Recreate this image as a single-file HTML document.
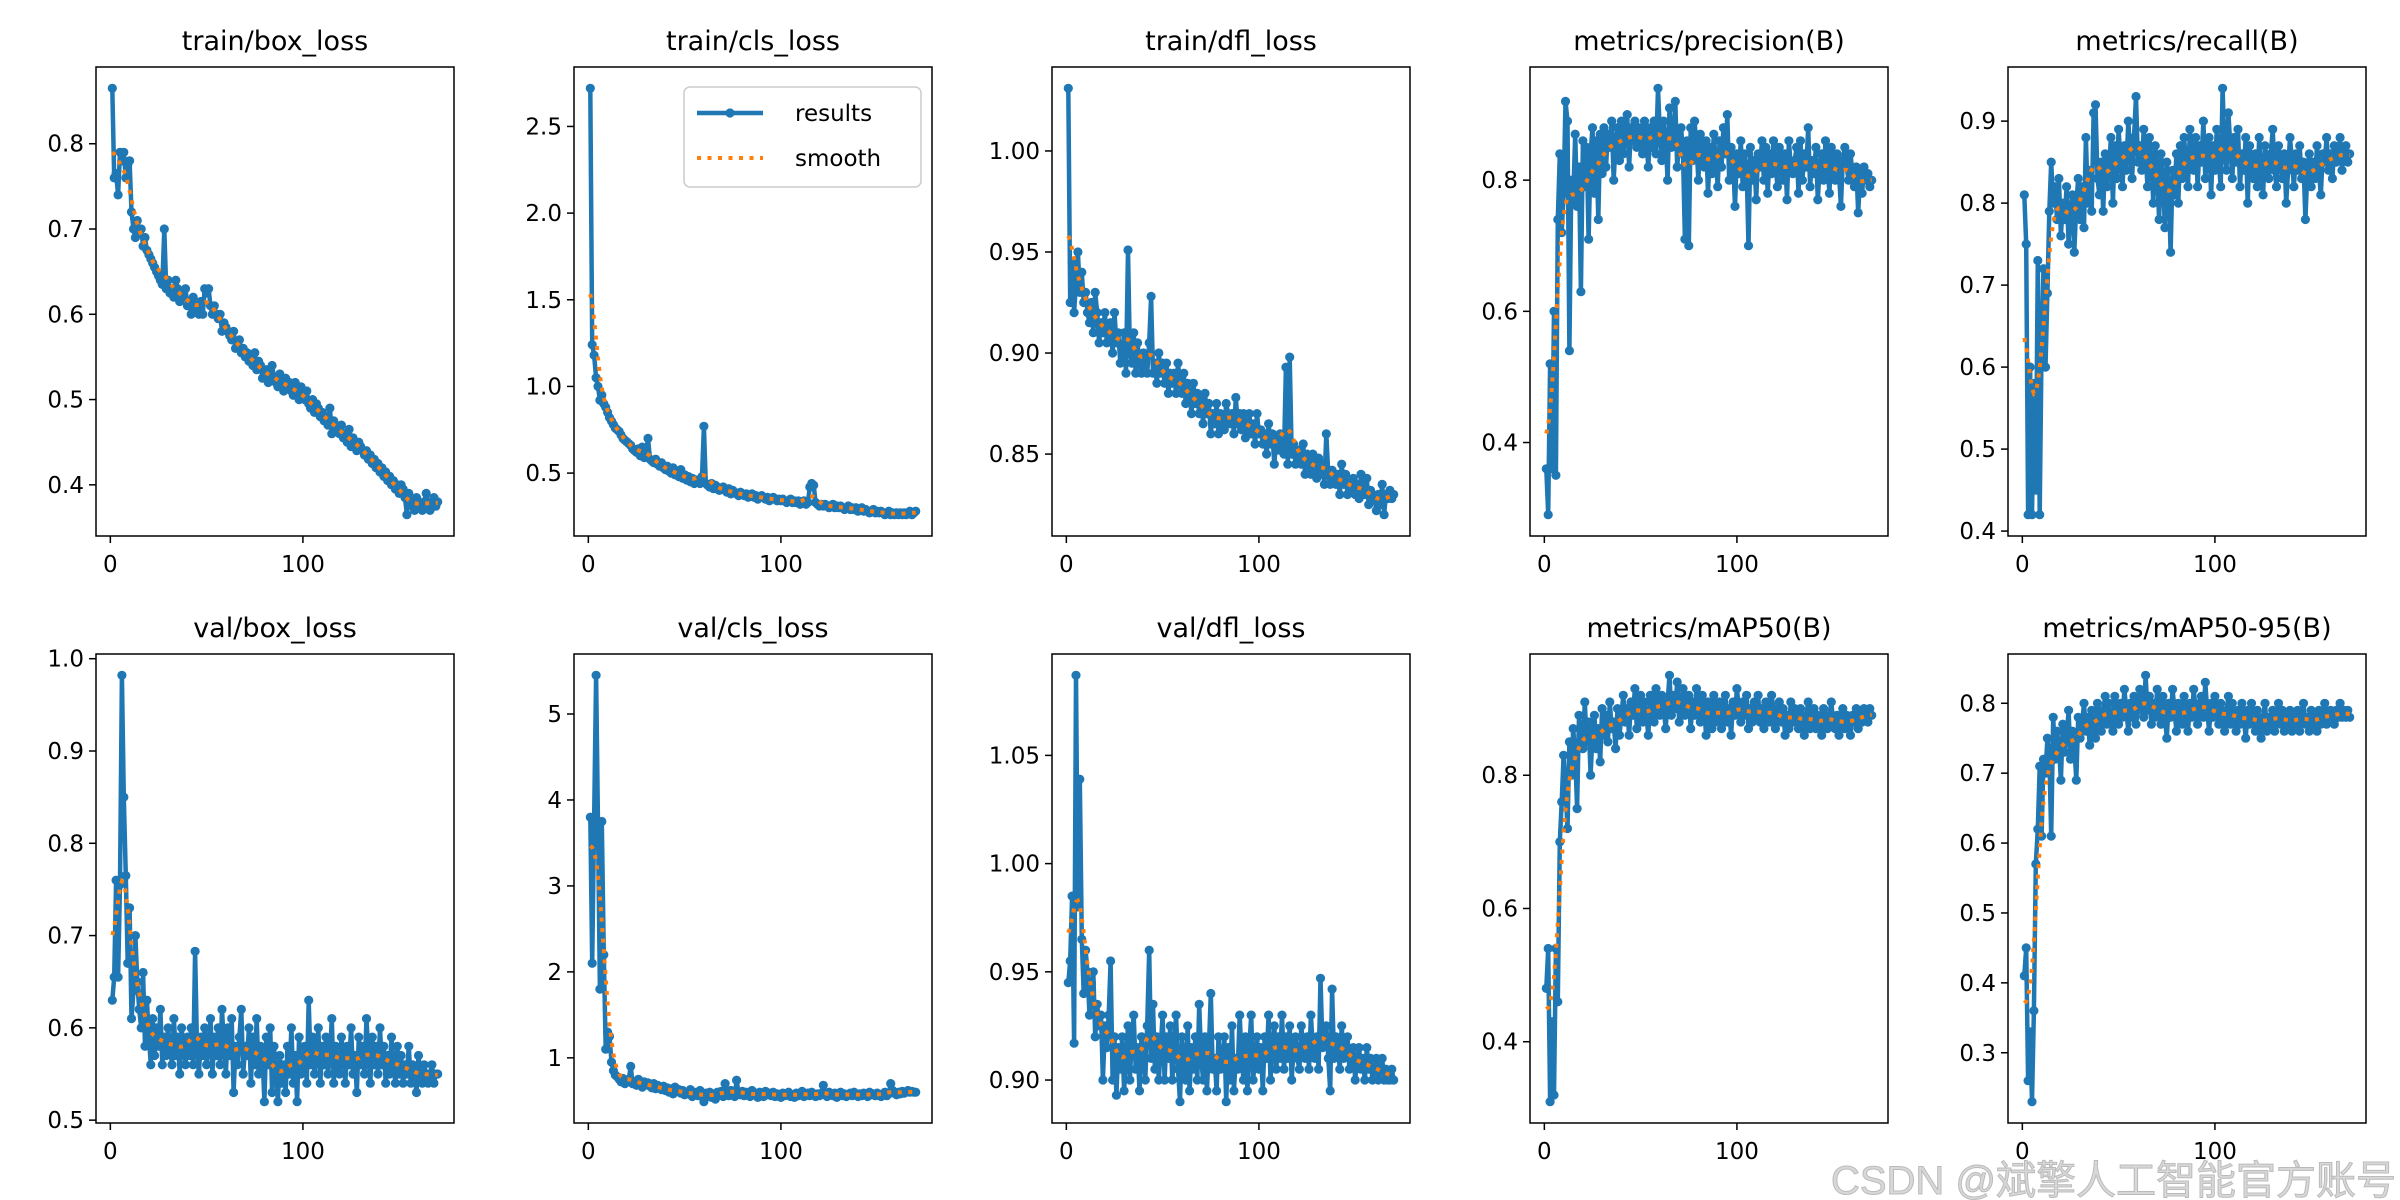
<!DOCTYPE html>
<html><head><meta charset="utf-8">
<style>
html,body{margin:0;padding:0;background:#fff;}
svg{display:block;}
text{font-family:"DejaVu Sans","Liberation Sans",sans-serif;fill:#000;}
</style></head>
<body>
<svg id="fig" xmlns="http://www.w3.org/2000/svg" width="2400" height="1200" viewBox="0 0 2400 1200">
<rect x="0" y="0" width="2400" height="1200" fill="#fff"/>
<text x="2396" y="1194" text-anchor="end" font-size="40" style="font-family:'Liberation Sans','Noto Sans CJK SC',sans-serif;fill:#d8d8d8;stroke:#bbb;stroke-width:1">CSDN @斌擎人工智能官方账号</text>
</svg>
<script>
const titles = ["train/box_loss","train/cls_loss","train/dfl_loss","metrics/precision(B)","metrics/recall(B)","val/box_loss","val/cls_loss","val/dfl_loss","metrics/mAP50(B)","metrics/mAP50-95(B)"];
const trainBox = [.865,.76,.765,.74,.79,.78,.79,.76,.775,.78,.72,.70,.69,.71,.695,.70,.68,.69,.675,.67,.665,.66,.655,.65,.645,.64,.635,.70,.63,.64,.625,.63,.62,.64,.63,.615,.625,.62,.63,.61,.615,.60,.62,.61,.605,.60,.615,.60,.63,.625,.63,.61,.60,.61,.60,.595,.60,.58,.59,.585,.58,.575,.57,.58,.56,.565,.57,.555,.56,.55,.555,.545,.55,.54,.555,.535,.545,.54,.525,.53,.535,.52,.53,.54,.525,.52,.515,.53,.52,.51,.525,.515,.52,.51,.505,.52,.51,.50,.515,.505,.50,.51,.495,.49,.50,.485,.495,.49,.48,.485,.475,.48,.47,.49,.46,.475,.47,.465,.46,.47,.455,.46,.45,.465,.445,.455,.45,.44,.45,.445,.44,.435,.44,.43,.435,.425,.43,.42,.425,.415,.42,.41,.415,.405,.41,.40,.405,.395,.40,.39,.40,.395,.385,.365,.39,.38,.375,.37,.385,.38,.375,.37,.38,.39,.375,.37,.38,.385,.375,.38];
const trainCls = [2.72,1.24,1.18,1.05,1.0,.92,.95,.90,.88,.85,.82,.80,.78,.76,.75,.74,.72,.70,.69,.68,.67,.66,.64,.63,.62,.64,.60,.65,.59,.62,.70,.58,.57,.56,.58,.55,.54,.56,.53,.52,.54,.51,.50,.53,.49,.50,.48,.52,.47,.49,.46,.48,.45,.47,.44,.46,.45,.44,.48,.77,.44,.43,.42,.44,.41,.43,.42,.40,.41,.42,.40,.39,.41,.38,.40,.39,.38,.37,.39,.38,.37,.38,.36,.37,.38,.36,.37,.35,.36,.37,.36,.35,.36,.34,.35,.36,.35,.34,.35,.34,.35,.34,.33,.34,.35,.33,.34,.33,.34,.32,.33,.34,.32,.33,.42,.44,.43,.33,.32,.31,.32,.31,.32,.31,.30,.31,.32,.30,.31,.30,.31,.30,.29,.30,.31,.29,.30,.29,.30,.28,.29,.30,.28,.29,.28,.27,.28,.29,.27,.28,.27,.28,.27,.26,.27,.28,.26,.27,.26,.27,.26,.27,.26,.27,.26,.27,.28,.26,.27,.28];
const trainDfl = [1.031,.925,.945,.92,.935,.95,.93,.94,.925,.93,.92,.915,.925,.91,.93,.92,.905,.915,.91,.92,.905,.91,.915,.90,.92,.905,.91,.895,.90,.91,.89,.951,.90,.895,.91,.89,.905,.895,.89,.90,.895,.89,.905,.928,.89,.895,.885,.90,.89,.895,.885,.895,.88,.89,.885,.89,.88,.895,.885,.88,.89,.875,.885,.88,.87,.885,.875,.88,.87,.878,.865,.88,.87,.875,.86,.87,.865,.875,.86,.87,.868,.862,.875,.87,.865,.87,.86,.878,.865,.87,.862,.87,.858,.865,.87,.86,.865,.855,.87,.86,.862,.855,.86,.85,.865,.855,.86,.845,.858,.852,.86,.855,.85,.893,.845,.898,.85,.855,.845,.85,.852,.845,.855,.84,.85,.845,.84,.85,.845,.838,.848,.84,.845,.835,.86,.84,.835,.842,.838,.835,.84,.83,.845,.835,.84,.83,.836,.832,.838,.83,.835,.828,.84,.832,.83,.838,.825,.832,.83,.828,.822,.83,.825,.835,.82,.83,.828,.832,.828,.83];
const precision = [.36,.29,.52,.36,.60,.35,.74,.84,.72,.78,.92,.89,.54,.80,.77,.87,.76,.82,.63,.86,.79,.85,.71,.84,.88,.78,.86,.74,.87,.81,.88,.82,.87,.85,.89,.80,.86,.88,.83,.89,.84,.87,.90,.82,.88,.86,.89,.85,.88,.87,.84,.89,.86,.82,.88,.85,.89,.84,.94,.87,.83,.89,.86,.80,.91,.85,.87,.92,.82,.86,.88,.84,.71,.86,.70,.88,.83,.89,.85,.80,.87,.84,.82,.86,.78,.85,.81,.87,.83,.79,.86,.82,.88,.84,.90,.80,.85,.83,.76,.84,.81,.86,.79,.84,.82,.70,.85,.80,.83,.77,.84,.82,.86,.80,.85,.78,.84,.81,.86,.83,.79,.85,.82,.80,.84,.77,.86,.82,.81,.83,.85,.78,.86,.80,.84,.82,.88,.79,.83,.81,.85,.77,.82,.84,.80,.86,.83,.78,.85,.82,.80,.84,.81,.76,.83,.85,.82,.80,.84,.81,.79,.82,.75,.81,.78,.82,.80,.81,.79,.80];
const recall = [.81,.75,.42,.60,.42,.58,.45,.73,.42,.63,.72,.60,.69,.79,.85,.80,.82,.78,.83,.76,.80,.78,.82,.75,.79,.81,.74,.80,.83,.78,.82,.77,.88,.80,.84,.79,.91,.92,.83,.81,.85,.79,.86,.82,.84,.88,.80,.87,.83,.89,.85,.82,.87,.84,.90,.86,.83,.88,.93,.85,.87,.84,.89,.86,.82,.88,.85,.80,.87,.84,.78,.86,.83,.77,.85,.82,.74,.84,.81,.86,.80,.87,.83,.88,.85,.82,.89,.86,.84,.88,.82,.87,.85,.90,.83,.86,.88,.81,.87,.84,.89,.85,.82,.94,.86,.84,.91,.87,.83,.88,.85,.89,.82,.86,.84,.88,.80,.87,.85,.83,.86,.82,.88,.84,.81,.87,.85,.83,.86,.89,.84,.82,.87,.85,.83,.86,.80,.84,.88,.85,.82,.86,.84,.87,.83,.85,.78,.84,.86,.82,.85,.83,.87,.84,.81,.86,.85,.88,.84,.86,.83,.87,.85,.86,.88,.84,.86,.87,.85,.86];
const valBox = [.63,.655,.76,.655,.755,.982,.85,.765,.67,.73,.61,.64,.70,.65,.62,.60,.66,.58,.63,.59,.56,.61,.57,.60,.58,.62,.56,.59,.57,.60,.58,.56,.61,.57,.59,.55,.60,.58,.56,.59,.57,.60,.56,.683,.58,.55,.59,.57,.60,.56,.58,.61,.55,.59,.57,.60,.56,.62,.58,.55,.60,.57,.61,.53,.58,.56,.59,.62,.55,.58,.57,.60,.54,.59,.56,.61,.55,.58,.57,.52,.59,.56,.60,.53,.58,.55,.52,.57,.54,.56,.53,.58,.55,.60,.54,.57,.52,.59,.55,.56,.58,.54,.63,.56,.59,.55,.57,.60,.54,.58,.56,.59,.55,.57,.61,.54,.58,.56,.55,.59,.57,.54,.58,.56,.60,.55,.57,.53,.59,.56,.58,.55,.61,.57,.54,.59,.56,.58,.55,.60,.56,.58,.54,.57,.55,.59,.56,.54,.58,.55,.57,.54,.56,.55,.58,.54,.56,.55,.53,.57,.55,.54,.56,.55,.54,.55,.56,.54,.55,.55];
const valCls = [3.8,2.1,3.75,5.45,3.7,1.8,3.75,2.2,1.1,1.3,1.25,.95,.85,.8,.78,.75,.72,.76,.7,.73,.75,.9,.7,.72,.68,.75,.7,.66,.72,.69,.71,.67,.65,.7,.64,.68,.66,.63,.67,.62,.65,.6,.64,.58,.66,.61,.63,.59,.62,.57,.6,.58,.63,.55,.6,.58,.56,.62,.57,.49,.59,.56,.6,.54,.58,.52,.6,.57,.61,.55,.7,.58,.56,.62,.6,.55,.74,.59,.57,.61,.56,.6,.58,.55,.62,.57,.59,.54,.6,.58,.55,.61,.57,.59,.56,.6,.55,.58,.57,.54,.59,.56,.58,.6,.55,.57,.54,.59,.56,.58,.61,.55,.57,.59,.56,.6,.57,.55,.58,.56,.59,.68,.57,.55,.6,.58,.56,.59,.54,.57,.6,.56,.58,.55,.57,.59,.56,.6,.57,.55,.58,.56,.59,.57,.55,.6,.57,.58,.56,.59,.57,.55,.58,.6,.56,.58,.7,.62,.59,.57,.6,.58,.61,.59,.6,.62,.6,.61,.6,.6];
const valDfl = [.945,.955,.985,.917,1.087,.98,1.039,.965,.94,.96,.95,.93,.945,.95,.92,.935,.925,.93,.90,.925,.915,.93,.955,.90,.92,.893,.915,.905,.92,.895,.91,.925,.90,.92,.93,.905,.915,.895,.92,.91,.90,.925,.96,.91,.935,.905,.92,.90,.915,.93,.90,.92,.91,.925,.90,.915,.93,.905,.89,.92,.91,.90,.925,.895,.915,.905,.92,.90,.935,.91,.90,.92,.895,.915,.94,.905,.91,.895,.92,.905,.91,.92,.89,.915,.90,.925,.895,.91,.905,.93,.91,.90,.92,.895,.915,.93,.90,.91,.92,.905,.915,.895,.92,.91,.93,.90,.915,.925,.905,.92,.91,.93,.905,.92,.91,.925,.90,.915,.92,.91,.905,.925,.915,.91,.92,.905,.93,.915,.91,.92,.905,.947,.915,.92,.925,.91,.895,.942,.91,.92,.915,.905,.925,.91,.915,.92,.905,.91,.915,.90,.91,.915,.905,.91,.9,.915,.905,.91,.9,.905,.91,.9,.905,.91,.9,.905,.9,.9,.905,.9];
const map50 = [.48,.54,.31,.43,.32,.54,.46,.70,.76,.83,.78,.72,.85,.80,.87,.83,.75,.89,.86,.84,.91,.85,.88,.80,.86,.89,.84,.87,.82,.90,.86,.89,.85,.91,.87,.88,.84,.90,.86,.89,.92,.88,.90,.86,.91,.89,.93,.87,.90,.92,.88,.91,.89,.86,.92,.90,.88,.93,.91,.89,.92,.90,.87,.91,.95,.89,.92,.90,.94,.88,.91,.93,.89,.90,.92,.87,.91,.89,.93,.90,.88,.92,.90,.86,.91,.89,.87,.92,.88,.90,.91,.87,.89,.92,.88,.90,.86,.91,.89,.93,.90,.88,.91,.89,.92,.87,.90,.88,.91,.89,.92,.88,.90,.87,.91,.89,.88,.92,.90,.87,.89,.91,.88,.90,.86,.89,.87,.91,.88,.90,.89,.87,.90,.88,.86,.89,.91,.87,.88,.90,.87,.89,.88,.86,.90,.88,.87,.89,.91,.88,.87,.89,.86,.88,.90,.87,.89,.88,.86,.89,.88,.90,.87,.89,.88,.90,.89,.88,.90,.89];
const map5095 = [.41,.45,.26,.33,.23,.36,.57,.62,.71,.61,.72,.70,.75,.73,.61,.78,.72,.76,.74,.69,.77,.73,.75,.79,.72,.76,.74,.69,.78,.75,.77,.80,.76,.78,.74,.79,.77,.75,.80,.78,.76,.79,.81,.77,.80,.78,.76,.81,.79,.77,.80,.78,.82,.79,.76,.80,.78,.81,.77,.79,.82,.80,.78,.84,.79,.81,.77,.80,.78,.82,.79,.77,.81,.78,.75,.80,.78,.82,.79,.76,.80,.78,.77,.81,.79,.76,.80,.78,.82,.79,.77,.80,.81,.78,.83,.79,.76,.80,.78,.81,.79,.77,.80,.78,.76,.79,.81,.77,.80,.78,.76,.79,.77,.80,.78,.75,.79,.77,.80,.78,.76,.79,.77,.75,.78,.80,.76,.78,.77,.79,.76,.78,.80,.77,.79,.76,.78,.77,.79,.76,.78,.77,.79,.76,.78,.80,.77,.78,.76,.79,.77,.78,.76,.79,.77,.78,.80,.77,.78,.79,.78,.77,.79,.78,.80,.78,.79,.78,.79,.78];
const yTickVals = [[.4,.5,.6,.7,.8],[.5,1.0,1.5,2.0,2.5],[.85,.90,.95,1.00],[.4,.6,.8],[.4,.5,.6,.7,.8,.9],[.5,.6,.7,.8,.9,1.0],[1,2,3,4,5],[.90,.95,1.00,1.05],[.4,.6,.8],[.3,.4,.5,.6,.7,.8]];
const yTickLabels = [["0.4","0.5","0.6","0.7","0.8"],["0.5","1.0","1.5","2.0","2.5"],["0.85","0.90","0.95","1.00"],["0.4","0.6","0.8"],["0.4","0.5","0.6","0.7","0.8","0.9"],["0.5","0.6","0.7","0.8","0.9","1.0"],["1","2","3","4","5"],["0.90","0.95","1.00","1.05"],["0.4","0.6","0.8"],["0.3","0.4","0.5","0.6","0.7","0.8"]];
const xTickVals = [0,100];
const xTickLabels = ["0","100"];
const series = [trainBox,trainCls,trainDfl,precision,recall,valBox,valCls,valDfl,map50,map5095];

const NS = "http://www.w3.org/2000/svg";
const svg = document.getElementById("fig");
const wm = svg.lastElementChild;
const colLeft = [96,574,1052,1530,2008], axW = 358;
const rowTop = [67,654], axH = 469;

function mk(tag, attrs, parent){ const e=document.createElementNS(NS,tag); for(const k in attrs) e.setAttribute(k,attrs[k]); parent.appendChild(e); return e; }

function gauss(y, sigma){
  const r = Math.round(4*sigma), w=[]; let s=0;
  for(let i=-r;i<=r;i++){ const v=Math.exp(-i*i/(2*sigma*sigma)); w.push(v); s+=v; }
  const n=y.length, out=[];
  for(let i=0;i<n;i++){ let acc=0;
    for(let k=-r;k<=r;k++){ let j=i+k; while(j<0||j>=n){ if(j<0) j=-j-1; if(j>=n) j=2*n-j-1; } acc+=w[k+r]*y[j]; }
    out.push(acc/s); }
  return out;
}

series.forEach((ys, p) => {
  const L = colLeft[p%5], T = rowTop[Math.floor(p/5)];
  const g = mk("g", {}, svg);
  
  
  const n = ys.length, xs = ys.map((_, i) => i + 1);
  const xmin = xs[0], xmax = xs[n-1], xr = xmax - xmin;
  const x0 = xmin - 0.05*xr, x1 = xmax + 0.05*xr;
  const ymn = Math.min(...ys), ymx = Math.max(...ys), yr = ymx - ymn;
  const y0 = ymn - 0.05*yr, y1 = ymx + 0.05*yr;
  const X = v => L + (v - x0)/(x1 - x0)*axW;
  const Y = v => T + axH - (v - y0)/(y1 - y0)*axH;
  const clipId = "clip" + p;
  const cp = mk("clipPath", {id: clipId}, g);
  mk("rect", {x:L, y:T, width:axW, height:axH}, cp);
  const pts = xs.map((x,i)=>X(x).toFixed(1)+","+Y(ys[i]).toFixed(1)).join(" ");
  const line = mk("polyline", {points:pts, fill:"none", stroke:"#1f77b4", "stroke-width":4.5, "stroke-linejoin":"round", "clip-path":"url(#"+clipId+")"}, g);
  
  
  const mg = mk("g", {fill:"#1f77b4", "clip-path":"url(#"+clipId+")"}, g);
  
  
  xs.forEach((x,i)=>{ const c = mk("circle", {cx:X(x).toFixed(1), cy:Y(ys[i]).toFixed(1), r:4.6}, mg);
    
     });
  const sm = gauss(ys, 3);
  const sp = xs.map((x,i)=>X(x).toFixed(1)+","+Y(sm[i]).toFixed(1)).join(" ");
  const sl = mk("polyline", {points:sp, fill:"none", stroke:"#ff7f0e", "stroke-width":4, "stroke-dasharray":"4 6.5", "clip-path":"url(#"+clipId+")"}, g);
  
  
  const fr = mk("rect", {x:L, y:T, width:axW, height:axH, fill:"none", stroke:"#000", "stroke-width":1.5}, g);
  
  
  const tt = mk("text", {x:L+axW/2, y:T-17, "text-anchor":"middle", "font-size":27}, g);
  tt.textContent = titles[p];
  
  
  yTickVals[p].forEach((v,i)=>{
    const yy = Y(v);
    const tk = mk("line", {x1:L-7, x2:L, y1:yy, y2:yy, stroke:"#000", "stroke-width":1.5}, g);
    
    
    const tl = mk("text", {x:L-12, y:yy+8, "text-anchor":"end", "font-size":23}, g);
    tl.textContent = yTickLabels[p][i];
    
    
  });
  xTickVals.forEach((v,i)=>{
    const xx = X(v);
    const tk = mk("line", {x1:xx, x2:xx, y1:T+axH, y2:T+axH+7, stroke:"#000", "stroke-width":1.5}, g);
    
    
    const tl = mk("text", {x:xx, y:T+axH+36, "text-anchor":"middle", "font-size":23}, g);
    tl.textContent = xTickLabels[i];
    
    
  });
  if (p === 1) {
    const lg = mk("g", {}, g);
    
    
    mk("rect", {x:684, y:87, width:237, height:100, rx:6, fill:"#fff", "fill-opacity":0.8, stroke:"#ccc", "stroke-width":1.5}, lg);
    mk("line", {x1:697, x2:763, y1:113, y2:113, stroke:"#1f77b4", "stroke-width":4.5}, lg);
    mk("circle", {cx:730, cy:113, r:4.6, fill:"#1f77b4"}, lg);
    const t1 = mk("text", {x:795, y:121, "font-size":23}, lg); t1.textContent = "results";
    
    
    mk("line", {x1:697, x2:763, y1:158, y2:158, stroke:"#ff7f0e", "stroke-width":4, "stroke-dasharray":"4 6.5"}, lg);
    const t2 = mk("text", {x:795, y:166, "font-size":23}, lg); t2.textContent = "smooth";
    
    
  }
});
svg.appendChild(wm);
</script>
</body></html>
